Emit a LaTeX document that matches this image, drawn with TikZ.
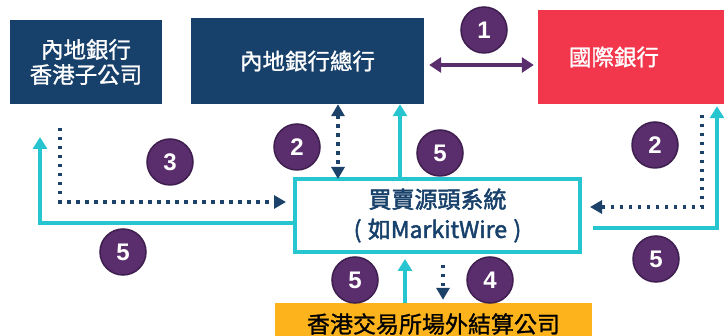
\documentclass[tikz,border=0pt]{standalone}
\usepackage{fontspec}
\usetikzlibrary{arrows.meta}
\newfontfamily\cjk[FakeBold=1.2]{Noto Sans CJK TC}
\newfontfamily\cjkb[FakeBold=2]{Noto Sans CJK TC}
\newfontfamily\numf{Liberation Sans}
\definecolor{navy}{HTML}{17406A}
\definecolor{dotnavy}{HTML}{1C426A}
\definecolor{redb}{HTML}{F2364C}
\definecolor{cyanl}{HTML}{26C5CF}
\definecolor{purp}{HTML}{5A2D6D}
\definecolor{purpd}{HTML}{3E1E4E}
\definecolor{orangeb}{HTML}{FDB41C}
\tikzset{
  navybox/.style={rectangle, fill=navy, text=white, inner sep=0pt, align=center, font=\cjk\fontsize{22.5}{25}\selectfont},
  redbox/.style={rectangle, fill=redb, text=white, inner sep=0pt, align=center, font=\cjk\fontsize{22.5}{25}\selectfont},
  hubbox/.style={rectangle, draw=cyanl, line width=4pt, fill=white, text=navy, inner sep=0pt, align=center, font=\cjkb\fontsize{23}{30}\selectfont},
  orbox/.style={rectangle, fill=orangeb, text=black, inner sep=0pt, align=center, font=\cjk\fontsize{23}{25}\selectfont},
  num/.style={circle, fill=purp, draw=purpd, line width=1.5pt, minimum size=46pt, inner sep=0pt, text=white, font=\numf\bfseries\fontsize{24}{24}\selectfont},
  navydot/.style={draw=dotnavy, line width=3.5pt, dash pattern=on 3.5pt off 5.5pt},
  navytip/.style={-{Triangle[length=12pt,width=13pt]}},
  cyanarrow/.style={draw=cyanl, line width=3.5pt, -{Triangle[length=12pt,width=14pt]}},
  purparrow/.style={draw=purp, line width=4pt, {Triangle[length=12pt,width=15pt]}-{Triangle[length=12pt,width=15pt]}}
}
\begin{document}
\begin{tikzpicture}[x=1pt,y=-1pt]
\useasboundingbox (0,0) rectangle (724,336);
% boxes
\node[navybox, minimum width=152pt, minimum height=84pt] (sub) at (86,62) {內地銀行\\香港子公司};
\node[navybox, minimum width=233pt, minimum height=86pt] (hq) at (307.5,61) {內地銀行總行};
\node[redbox, minimum width=202pt, minimum height=94pt, text width=186pt] (intl) at (639,57) {\hspace*{-50pt}國際銀行};
\node[hubbox, minimum width=285pt, minimum height=73pt] (hub) at (437.5,215.5) {買賣源頭系統\\(\;如MarkitWire\;)};
\node[orbox, minimum width=317pt, minimum height=42pt] (hkex) at (433.5,324) {\raisebox{-1pt}{香港交易所場外結算公司}};
% connectors
\draw[purparrow] ([shift={(5pt,-4pt)}]hq.east) -- ([shift={(-4pt,-4pt)}]hq.east -| intl.west);
\draw[navydot, {Triangle[length=12pt,width=13pt]}-{Triangle[length=12pt,width=13pt]}] (hq.south -| 338,0) -- ([yshift=-2pt]hub.north -| 338,0);
\coordinate (l3) at (60,128);
\draw[navydot, navytip, shorten >=7pt] (l3) |- (hub.west |- 0,202);
\coordinate (l5) at (40,137);
\draw[cyanarrow] (hub.west |- 0,223) -| (l5);
\draw[cyanarrow] (hub.north -| 400,0) -- (hq.south -| 400,0);
\coordinate (r2) at (702,115);
\draw[navydot, navytip, shorten >=8pt] (r2) |- (hub.east |- 0,207);
\coordinate (r5s) at (593,228);
\draw[cyanarrow, shorten >=2pt] (r5s) -| (intl.south -| 717,0);
\draw[cyanarrow, shorten >=5pt] (hkex.north -| 405,0) -- (hub.south -| 405,0);
\draw[navydot, navytip, shorten <=11pt, shorten >=3pt] (hub.south -| 443,0) -- (hkex.north -| 443,0);
% numbers
\node[num] (n1) at (484,30) {1};
\node[num] (n2a) at (297,147) {2};
\node[num] (n2b) at (655,145) {2};
\node[num] (n3) at (170,162) {3};
\node[num] (n5a) at (440,153) {5};
\node[num] (n5b) at (123,252) {5};
\node[num] (n5c) at (355,280) {5};
\node[num] (n4) at (490,280) {4};
\node[num] (n5d) at (656,259) {5};
\end{tikzpicture}
\end{document}
